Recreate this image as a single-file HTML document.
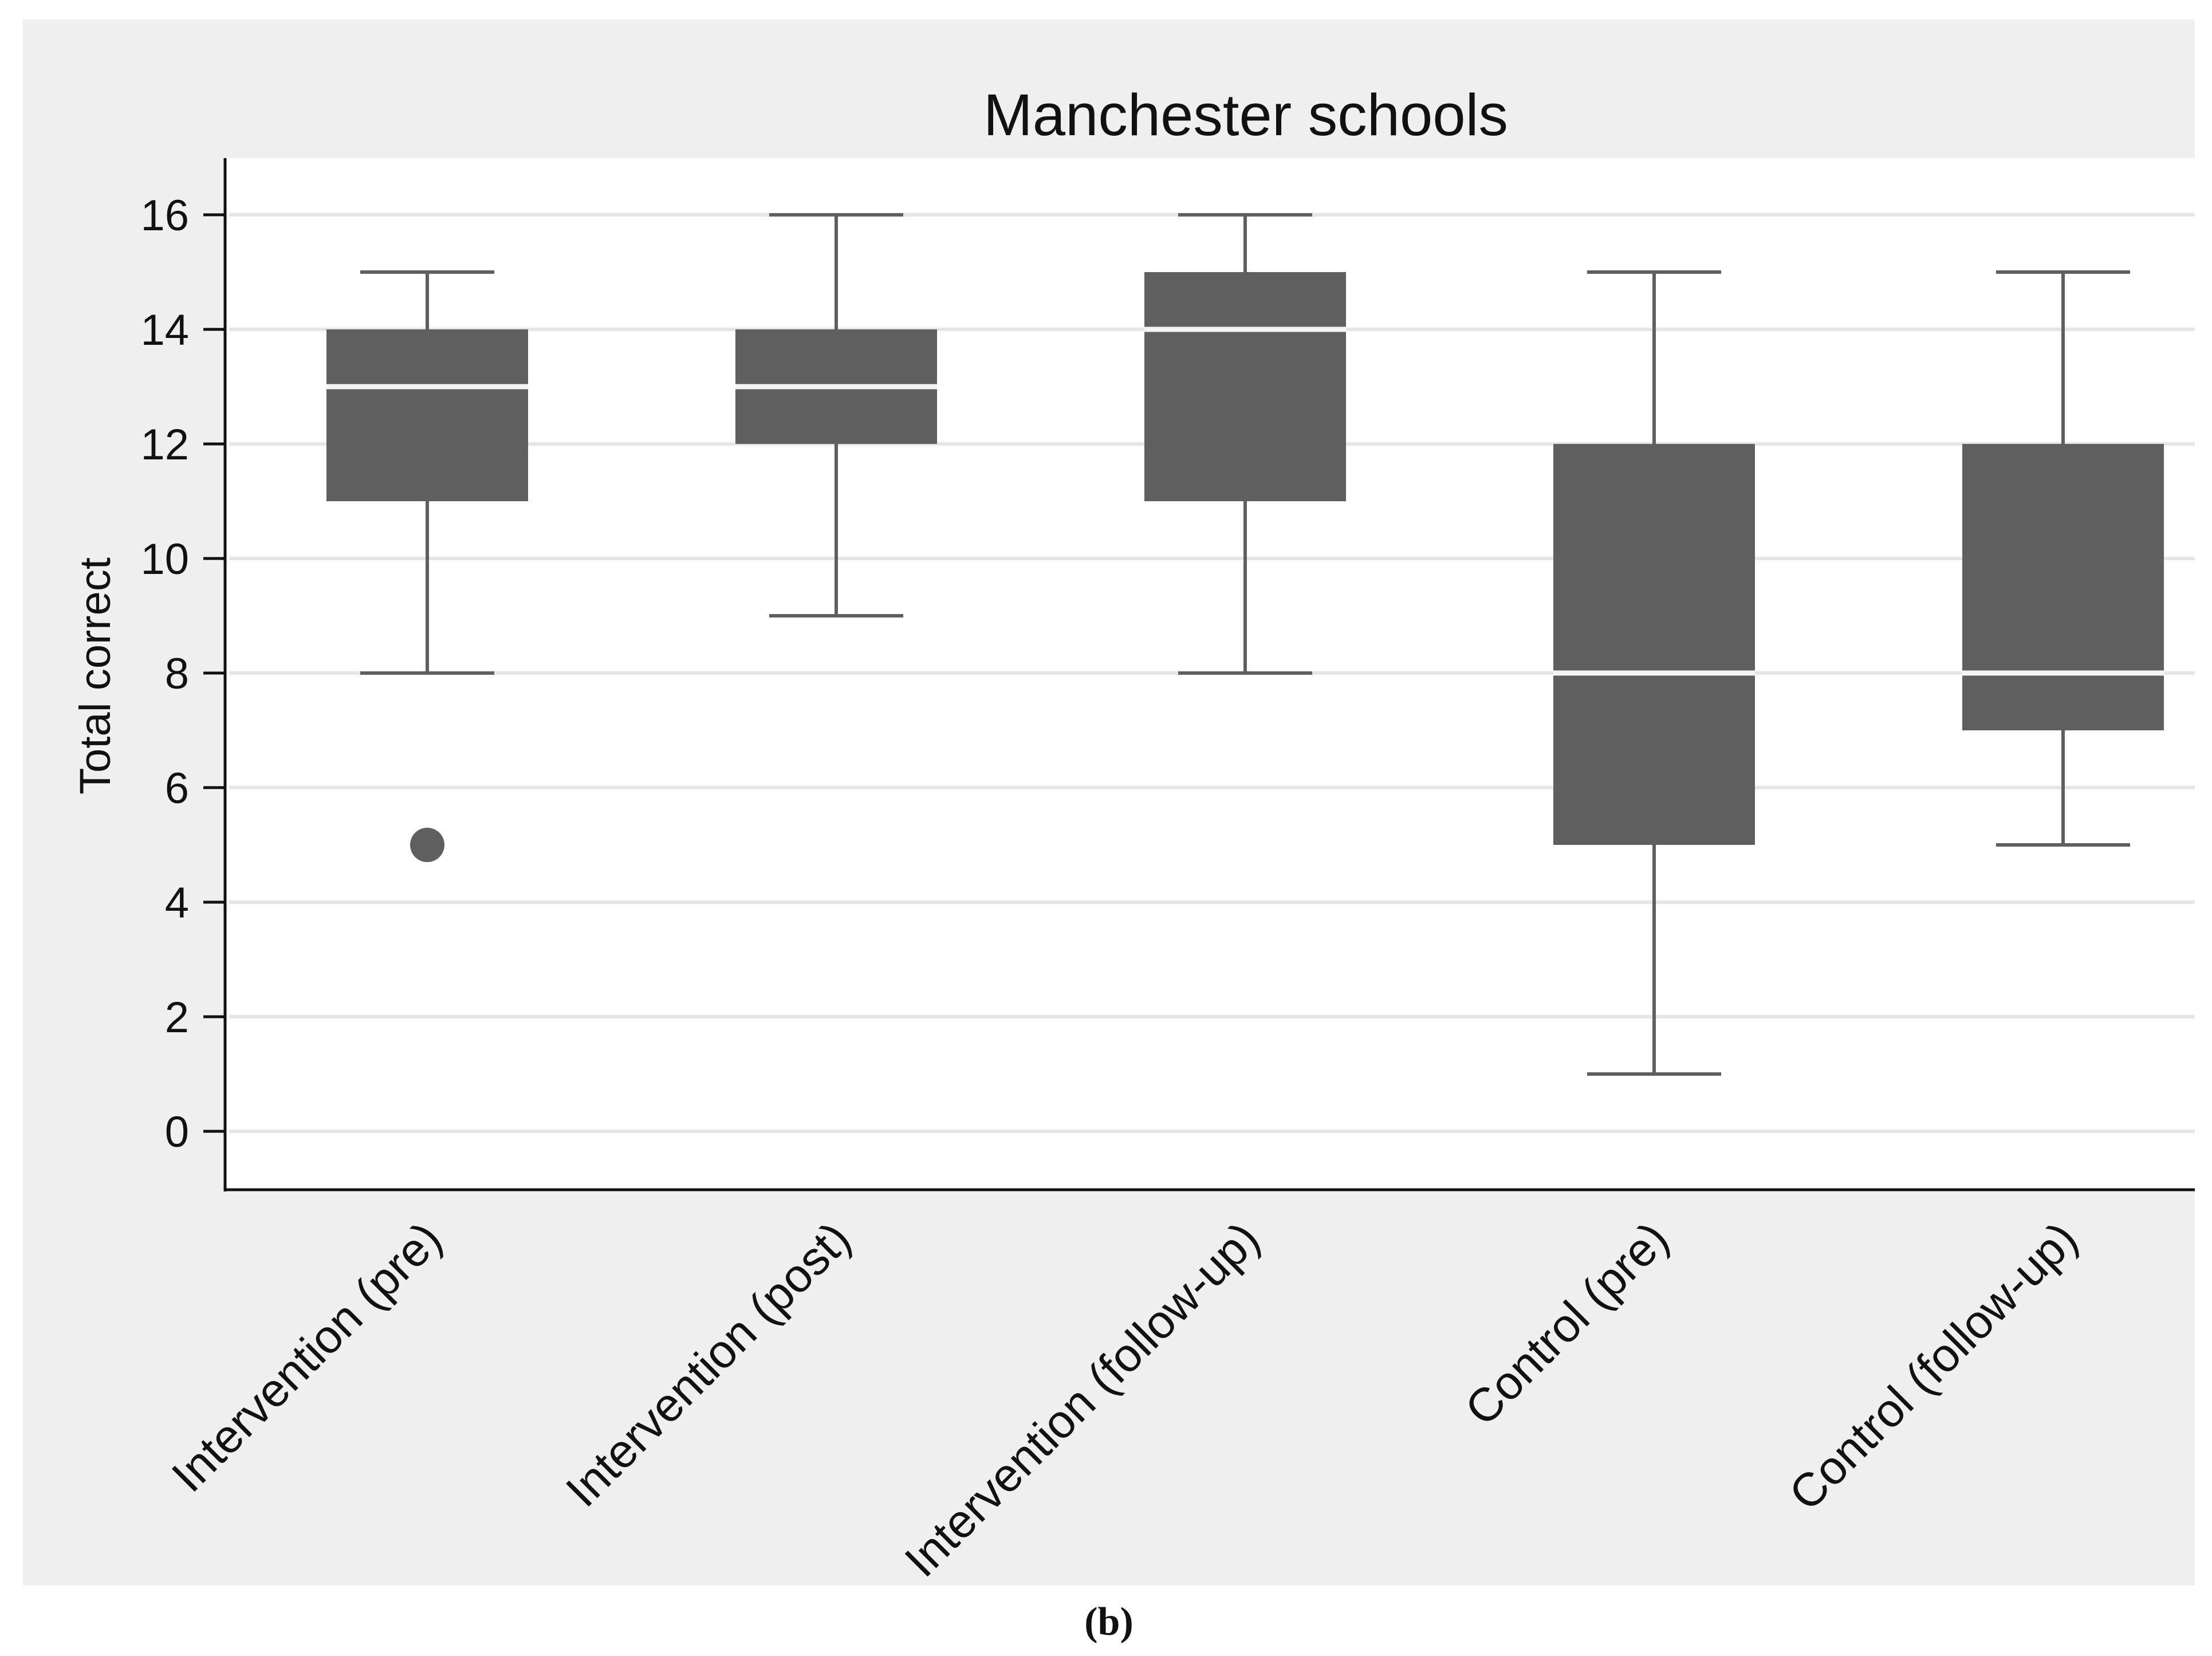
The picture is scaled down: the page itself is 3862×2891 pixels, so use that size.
<!DOCTYPE html>
<html><head><meta charset="utf-8"><style>
html,body{margin:0;padding:0;background:#fff;}
svg{display:block;font-family:"Liberation Sans",Arial,sans-serif;}
</style></head><body>
<svg id="chart" width="3862" height="2891" viewBox="0 0 3862 2891" xmlns="http://www.w3.org/2000/svg">
<rect x="40" y="34" width="3792" height="2734" fill="#f0f0f0"/>
<rect x="393" y="276" width="3439" height="1801" fill="#ffffff"/>
<text x="2175" y="236" font-size="103" text-anchor="middle" fill="#111">Manchester schools</text>
<text transform="translate(192,1180) rotate(-90)" font-size="76" text-anchor="middle" fill="#111">Total correct</text>
<text x="1936" y="2854" font-size="70" font-weight="bold" text-anchor="middle" font-family="Liberation Serif,serif" fill="#111">(b)</text>
<g id="grid"></g><g id="marks"></g><g id="axes"></g>
</svg>
<script>
const categories=["Intervention (pre)","Intervention (post)","Intervention (follow-up)","Control (pre)","Control (follow-up)"];
const whiskerLow=[8,9,8,1,5];
const q1=[11,12,11,5,7];
const median=[13,13,14,8,8];
const q3=[14,14,15,12,12];
const whiskerHigh=[15,16,16,15,15];
const outliers=[[5],[],[],[],[]];
const yTicks=[0,2,4,6,8,10,12,14,16];

const NS="http://www.w3.org/2000/svg";
function y(v){return 1975-v*100;}
function x(i){return 746+i*714;}
function mk(tag,attrs,parent){const e=document.createElementNS(NS,tag);for(const k in attrs)e.setAttribute(k,attrs[k]);parent.appendChild(e);return e;}
const grid=document.getElementById('grid'),marks=document.getElementById('marks'),axes=document.getElementById('axes');
yTicks.forEach(t=>{
  const g=mk('line',{x1:400,x2:3832,y1:y(t),y2:y(t),stroke:'#e6e6e6','stroke-width':6},grid);
  
  
  const tk=mk('line',{x1:355,x2:393,y1:y(t),y2:y(t),stroke:'#111','stroke-width':5},axes);
  
  
  const lb=mk('text',{x:330,y:y(t)+27,'font-size':76,'text-anchor':'end',fill:'#111'},axes);
  lb.textContent=t;
  
  
});
const col='#5f5f5f';
categories.forEach((c,i)=>{
  const cx=x(i);
  const w1=mk('line',{x1:cx,x2:cx,y1:y(whiskerHigh[i]),y2:y(q3[i]),stroke:col,'stroke-width':6},marks);
  
  
  const w2=mk('line',{x1:cx,x2:cx,y1:y(q1[i]),y2:y(whiskerLow[i]),stroke:col,'stroke-width':6},marks);
  
  
  const c1=mk('line',{x1:cx-117,x2:cx+117,y1:y(whiskerHigh[i]),y2:y(whiskerHigh[i]),stroke:col,'stroke-width':6},marks);
  
  
  const c2=mk('line',{x1:cx-117,x2:cx+117,y1:y(whiskerLow[i]),y2:y(whiskerLow[i]),stroke:col,'stroke-width':6},marks);
  
  
  const b=mk('rect',{x:cx-176,y:y(q3[i]),width:352,height:y(q1[i])-y(q3[i]),fill:col},marks);
  
  
  const m=mk('line',{x1:cx-176,x2:cx+176,y1:y(median[i]),y2:y(median[i]),stroke:'#f4f4f4','stroke-width':9},marks);
  
  
  outliers[i].forEach(o=>{
    const p=mk('circle',{cx:cx,cy:y(o),r:30,fill:col},marks);
    
    
  });
  const lb=mk('text',{transform:`translate(${cx+30},${2168}) rotate(-45)`,'font-size':82,'text-anchor':'end',fill:'#111'},axes);
  lb.textContent=c;
  
  
});
const ya=mk('line',{x1:393,x2:393,y1:276,y2:2080,stroke:'#111','stroke-width':5},axes);


const xa=mk('line',{x1:391,x2:3832,y1:2077,y2:2077,stroke:'#111','stroke-width':5},axes);


</script>
</body></html>
